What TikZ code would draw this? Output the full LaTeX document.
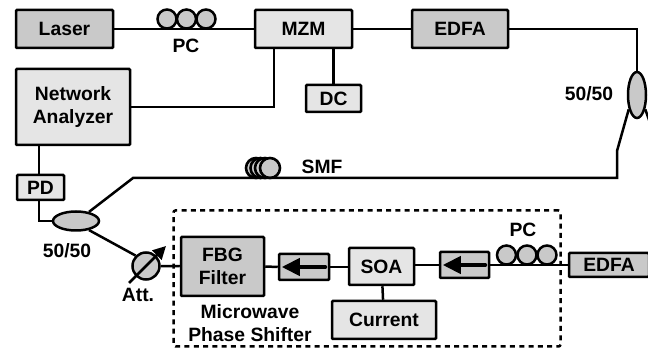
\documentclass[tikz,border=0pt]{standalone}
\usepackage{fontspec}
\setmainfont{Liberation Sans}
\usepackage{tikz}
\usetikzlibrary{arrows.meta, positioning, shapes.geometric}
\tikzset{%
	dev/.style={draw, rectangle, line width=2.5pt, rounded corners=1pt, inner sep=0mm,%
		font=\fontsize{19.3}{23}\selectfont\bfseries, align=center},
	devdark/.style={dev, fill=black!21},
	devlight/.style={dev, fill=black!10},
	fiber/.style={line width=2.5pt, line join=miter},
	wheel/.style={draw, circle, line width=2.5pt, minimum size=19pt, inner sep=0mm, fill=black!21},
	coil/.style={draw, circle, line width=2.6pt, minimum size=20pt, inner sep=0mm, fill=black!21},
	coupler/.style={draw, ellipse, line width=2.5pt, inner sep=0mm, fill=black!21},
	lbl/.style={font=\fontsize{19.3}{23}\selectfont\bfseries, inner sep=0mm, align=center},
	isoarrow/.style={line width=4pt, line cap=round, -{Triangle[length=18pt, width=17pt]}},
	attarrow/.style={line width=2.5pt, -{Triangle[length=13pt, width=13pt]}},
	region/.style={draw, rectangle, line width=2.5pt, dash pattern=on 5pt off 4.3pt, rounded corners=2pt}
}
\begin{document}
\begin{tikzpicture}[x=1pt, y=-1pt]
	\useasboundingbox (0,0) rectangle (648,352);
	\node[region, minimum width=387pt, minimum height=136pt] (shifter) at (367,278.5) {};

	\node[devdark, minimum width=97pt, minimum height=38pt] (laser) at (64.5,29) {Laser};
	\node[devlight, minimum width=97pt, minimum height=38pt] (mzm) at (303.5,29) {MZM};
	\node[devdark, minimum width=96pt, minimum height=38pt] (edfa1) at (460,29) {EDFA};
	\node[devlight, minimum width=55pt, minimum height=27pt] (dc) at (333.5,98.5) {DC};
	\node[devlight, minimum width=114pt, minimum height=76pt] (analyzer) at (73,107) {Network\\Analyzer};
	\node[devlight, minimum width=47pt, minimum height=25pt] (pd) at (40.5,187.5) {PD};
	\node[devdark, minimum width=83pt, minimum height=59pt] (fbg) at (222.5,266.5) {FBG\\Filter};
	\node[devdark, minimum width=50pt, minimum height=26pt] (iso1) at (304,267) {};
	\node[devlight, minimum width=65pt, minimum height=37pt] (soa) at (381.5,266.5) {SOA};
	\node[devdark, minimum width=49pt, minimum height=26pt] (iso2) at (464.5,265) {};
	\node[devdark, minimum width=80pt, minimum height=24pt] (edfa2) at (609,265) {EDFA};
	\node[devlight, minimum width=104pt, minimum height=38pt] (current) at (384,320) {Current};

	\node[coupler, minimum width=18pt, minimum height=46pt] (split) at (637,95) {};
	\node[coupler, minimum width=46pt, minimum height=19pt] (merge) at (76,221) {};
	\node[draw, circle, line width=2.5pt, minimum size=27pt, inner sep=0mm, fill=black!21] (att) at (146,266) {};

	\node[wheel] (pc1a) at (167,19) {};
	\node[wheel] (pc1b) at (186.5,19) {};
	\node[wheel] (pc1c) at (206,19) {};
	\node[wheel] (pc2a) at (506.5,255) {};
	\node[wheel] (pc2b) at (527,255) {};
	\node[wheel] (pc2c) at (547,255) {};
	\node[coil] (smf1) at (256,168) {};
	\node[coil] (smf2) at (260.5,168) {};
	\node[coil] (smf3) at (265,168) {};
	\node[coil] (smf4) at (270,168) {};

	\node[lbl] (pc1lbl) at (186,46) {PC};
	\node[lbl] (pc2lbl) at (523,230) {PC};
	\node[lbl] (smflbl) at (322,167) {SMF};
	\node[lbl] (splitlbl) at (589,94) {50/50};
	\node[lbl] (mergelbl) at (67,251) {50/50};
	\node[lbl] (attlbl) at (138,295) {Att.};
	\node[lbl] (shifterlbl) at (250,323) {Microwave\\Phase Shifter};

	\coordinate (splitbend) at (617,151);
	\coordinate (smfcorner) at (617,178);
	\coordinate (mergebend) at (133,178);
	\coordinate (splitend) at (655,137);
	\coordinate (attin) at (129,283);
	\coordinate (attout) at (166,246);

	\draw[fiber] (laser) to (mzm);
	\draw[fiber] (mzm) to (edfa1);
	\draw[fiber] (edfa1.east) -| (split.north);
	\draw[fiber] (mzm.south -| 274,0) |- (analyzer.east |- 0,107);
	\draw[fiber] (mzm.south -| dc.north) to (dc.north);
	\draw[fiber] (analyzer.south -| 39,0) to (pd.north -| 39,0);
	\draw[fiber] (pd.south -| 39,0) |- (merge.west);
	\draw[fiber] (split.240) -- (splitbend) -- (smfcorner) -- (mergebend) -- (merge.35);
	\draw[fiber] (split.300) to (splitend);
	\draw[fiber] (merge.325) to (att.135);
	\draw[fiber] (att) to (fbg);
	\draw[fiber] (fbg.east) to (iso1.west);
	\draw[fiber] (iso1.east) to (soa.west |- iso1.east);
	\draw[fiber] (soa.east |- iso2.west) to (iso2.west);
	\draw[fiber] (iso2.east) to (edfa2.west);
	\draw[fiber] (soa) to (current);

	\draw[isoarrow] ([xshift=-5pt]iso1.east) to ([xshift=4pt]iso1.west);
	\draw[isoarrow] ([xshift=-5pt]iso2.east) to ([xshift=4pt]iso2.west);
	\draw[attarrow] (attin) to (attout);
\end{tikzpicture}
\end{document}
